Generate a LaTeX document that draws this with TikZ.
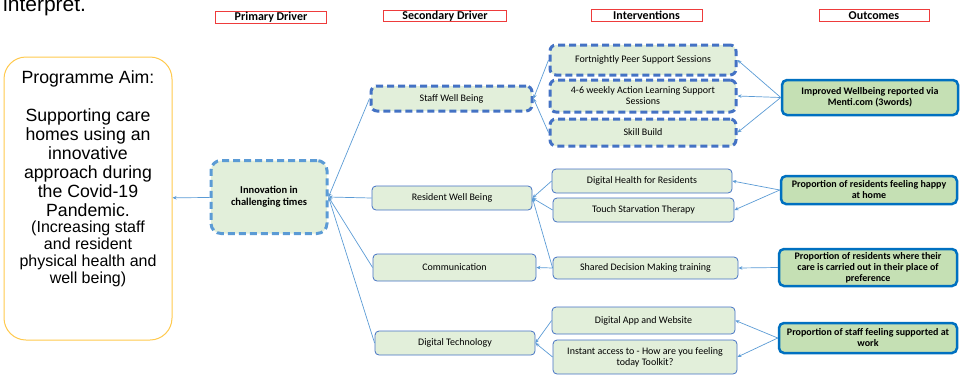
\documentclass[tikz,border=0pt]{standalone}
\usepackage{fontspec}
\setmainfont{Carlito}
\newfontfamily\arialfont{Liberation Sans}
\usetikzlibrary{arrows.meta}

\definecolor{boxgreen}{HTML}{E2EFDA}
\definecolor{outgreen}{HTML}{C5E0B4}
\definecolor{darkblue}{HTML}{4472C4}
\definecolor{lightblue}{HTML}{5B9BD5}
\definecolor{outblue}{HTML}{0070C0}
\definecolor{aimyellow}{HTML}{FFC94D}
\definecolor{headred}{HTML}{EE3B3B}

\tikzset{
  header/.style={draw=headred, line width=0.8pt, fill=white, inner sep=0pt, font=\fontsize{12}{12}\selectfont\bfseries},
  primbox/.style={draw=lightblue, line width=3pt, dash pattern=on 7pt off 4pt, rounded corners=10pt, fill=boxgreen, inner sep=0pt, align=center, font=\fontsize{10.5}{12}\selectfont\bfseries},
  dashbox/.style={draw=darkblue, line width=3pt, dash pattern=on 7pt off 4pt, rounded corners=6pt, fill=boxgreen, inner sep=0pt, align=center, font=\fontsize{10}{11}\selectfont},
  plainbox/.style={draw=darkblue, line width=0.8pt, rounded corners=4pt, fill=boxgreen, inner sep=0pt, align=center, font=\fontsize{10}{11}\selectfont},
  outbox/.style={draw=outblue, line width=2.5pt, rounded corners=5pt, fill=outgreen, inner sep=0pt, align=center, font=\fontsize{10}{11}\selectfont\bfseries},
  conn/.style={draw=lightblue, line width=0.7pt, -{Stealth[length=4pt,width=3.5pt]}},
}

\begin{document}
\begin{tikzpicture}[x=1pt, y=-1pt]
			\useasboundingbox (0,0) rectangle (961,376);
			% Cut off text
			\node[anchor=base west, inner sep=0pt, font=\arialfont\fontsize{21}{23}\selectfont] (cut) at (3,11) {interpret.};
			% Headers
			\node[header, minimum width=111pt, minimum height=12pt] (hprim) at (271,17) {Primary Driver};
			\node[header, minimum width=123pt, minimum height=11pt] (hsec) at (445,16) {Secondary Driver};
			\node[header, minimum width=111pt, minimum height=12pt] (hint) at (646.5,15.5) {Interventions};
			\node[header, minimum width=110pt, minimum height=12pt] (hout) at (874,15.5) {Outcomes};
			% Aim
			\node[draw=aimyellow, line width=1pt, rounded corners=22pt, minimum width=168pt, minimum height=283pt] (aim) at (88,198.5) {};
			\node[anchor=base, inner sep=0pt, align=center, font=\arialfont\fontsize{17.7}{19}\selectfont] (aimtext) at (88,216) {Programme Aim:\\[19pt]Supporting care\\homes using an\\innovative\\approach during\\the Covid-19\\Pandemic.};
			\node[anchor=base, inner sep=0pt, align=center, font=\arialfont\fontsize{16}{17}\selectfont] (aimsub) at (88,283) {(Increasing staff\\and resident\\physical health and\\well being)};
			% Primary driver
			\node[primbox, minimum width=116pt, minimum height=73pt] (prim) at (269,197) {Innovation in\\challenging times};
			% Secondary drivers
			\node[dashbox, minimum width=161pt, minimum height=25pt] (staff) at (451.5,98.5) {Staff Well Being};
			\node[plainbox, minimum width=160pt, minimum height=24pt] (resid) at (452,198) {Resident Well Being};
			\node[plainbox, minimum width=163pt, minimum height=27pt] (comm) at (454.5,267.5) {Communication};
			\node[plainbox, minimum width=160pt, minimum height=24pt] (digi) at (455,343) {Digital Technology};
			% Interventions
			\node[dashbox, minimum width=186pt, minimum height=30pt] (peer) at (643,60) {Fortnightly Peer Support Sessions};
			\node[dashbox, minimum width=186pt, minimum height=32pt] (action) at (643,96) {4-6 weekly Action Learning Support\\Sessions};
			\node[dashbox, minimum width=186pt, minimum height=27pt] (skill) at (643,132.5) {Skill Build};
			\node[plainbox, minimum width=180pt, minimum height=24pt] (health) at (642,181) {Digital Health for Residents};
			\node[plainbox, minimum width=181pt, minimum height=24pt] (touch) at (643.5,210) {Touch Starvation Therapy};
			\node[plainbox, minimum width=185pt, minimum height=22pt] (shared) at (645.5,268) {Shared Decision Making training};
			\node[plainbox, minimum width=183pt, minimum height=27pt] (app) at (643.5,320.5) {Digital App and Website};
			\node[plainbox, minimum width=184pt, minimum height=34pt] (toolkit) at (645,357) {Instant access to - How are you feeling\\today Toolkit?};
			% Outcomes
			\node[outbox, minimum width=176pt, minimum height=35pt] (menti) at (870,97.5) {Improved Wellbeing reported via\\Menti.com (3words)};
			\node[outbox, minimum width=176pt, minimum height=28pt] (happy) at (869,190) {Proportion of residents feeling happy\\at home};
			\node[outbox, minimum width=178pt, minimum height=37pt] (place) at (868,267.5) {Proportion of residents where their\\care is carried out in their place of\\preference};
			\node[outbox, minimum width=178pt, minimum height=30pt] (work) at (868,338) {Proportion of staff feeling supported at\\work};
			% Connectors
			\draw[conn] (prim) -- (aim);
			\foreach \s in {staff,resid,comm,digi} {
				\draw[conn] (\s.west) -- (prim.east);
			}
			\draw[conn] (peer.west) -- (staff.east);
			\draw[conn] (skill.west) -- (staff.east);
			\draw[conn] (health.west) -- (resid.east);
			\draw[conn] (touch.west) -- (resid.east);
			\draw[conn] (shared.west) -- (resid.east);
			\draw[conn] (shared.west) -- (comm.east);
			\draw[conn] (app.west) -- (digi.east);
			\draw[conn] (toolkit.west) -- (digi.east);
			\foreach \i in {peer,action,skill} {
				\draw[conn] (menti.west) -- (\i.east);
			}
			\draw[conn] (happy.west) -- (health.east);
			\draw[conn] (happy.west) -- (touch.east);
			\draw[conn] (place.west) -- (shared.east);
			\draw[conn] (work.west) -- (app.east);
			\draw[conn] (work.west) -- (toolkit.east);
		\end{tikzpicture}
\end{document}
